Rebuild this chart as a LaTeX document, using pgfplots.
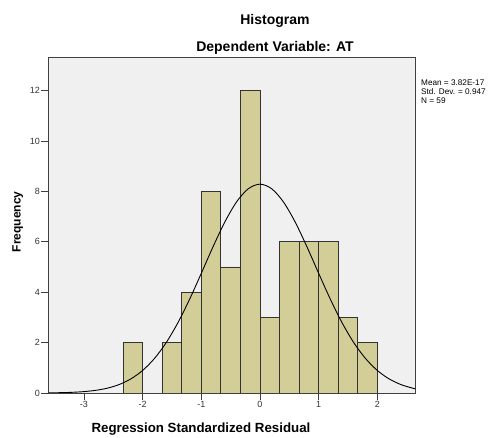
\documentclass[border=0pt]{standalone}
\usepackage{fontspec}
\setmainfont{Liberation Sans}
\usepackage{pgfplots}
\pgfplotsset{compat=1.18}
\definecolor{barfill}{RGB}{211,206,151}
\definecolor{bgfill}{RGB}{240,240,240}
\begin{document}
\begin{tikzpicture}
\useasboundingbox (0pt,0pt) rectangle (497pt,438pt);
\begin{axis}[
  at={(48pt,45pt)}, anchor=south west,
  scale only axis, width=367pt, height=336pt,
  xmin=-3.61, xmax=2.64, ymin=0, ymax=13.33,
  xtick={-3,-2,-1,0,1,2}, ytick={0,2,4,6,8,10,12},
  tick align=outside, major tick length=7pt,
  xtick pos=bottom, ytick pos=left,
  tick style={black!75, line width=0.6pt},
  axis line style={black!75, line width=0.8pt},
  axis background/.style={fill=bgfill},
  ticklabel style={font=\fontsize{9}{9}\selectfont, text=black!80},
  /pgf/number format/assume math mode=true,
  yticklabel style={inner sep=1pt},
  xticklabel style={inner sep=1pt},
]
\addplot[ybar interval, fill=barfill, draw=black!80, line width=0.8pt] coordinates {(-2.3333,2) (-2,2)};
\addplot[ybar interval, fill=barfill, draw=black!80, line width=0.8pt] coordinates {(-1.6667,2) (-1.3333,4) (-1,8) (-0.6667,5) (-0.3333,12) (0,3) (0.3333,6) (0.6667,6) (1,6) (1.3333,3) (1.6667,2) (2,2)};
\addplot[smooth, black, line width=0.9pt] coordinates {
(-3.6,0.006) (-3.4,0.013) (-3.2,0.027) (-3.0,0.055) (-2.8,0.105) (-2.6,0.191) (-2.4,0.334) (-2.2,0.558) (-2.0,0.891) (-1.8,1.361) (-1.6,1.988) (-1.4,2.778) (-1.2,3.712) (-1.0,4.744) (-0.8,5.799) (-0.6,6.778) (-0.4,7.578) (-0.2,8.102) (0,8.285) (0.2,8.102) (0.4,7.578) (0.6,6.778) (0.8,5.799) (1.0,4.744) (1.2,3.712) (1.4,2.778) (1.6,1.988) (1.8,1.361) (2.0,0.891) (2.2,0.558) (2.4,0.334) (2.6,0.191) (2.64,0.170)};
\end{axis}
\node[anchor=base, inner sep=0pt, font=\bfseries\fontsize{14}{16}\selectfont] at (275pt,413pt) {Histogram};
\node[anchor=base, inner sep=0pt, font=\bfseries\fontsize{14}{16}\selectfont] at (275pt,386.3pt) {Dependent Variable: AT};
\node[anchor=base, inner sep=0pt, font=\bfseries\fontsize{13.3}{15}\selectfont] at (201pt,5.5pt) {Regression Standardized Residual};
\node[anchor=base, rotate=90, inner sep=0pt, font=\bfseries\fontsize{12}{14}\selectfont] at (20.5pt,216.3pt) {Frequency};
\node[anchor=base west, inner sep=0pt, font=\fontsize{8.2}{8.2}\selectfont] at (421pt,352.5pt) {Mean = 3.82E-17};
\node[anchor=base west, inner sep=0pt, font=\fontsize{8.2}{8.2}\selectfont] at (421pt,343.3pt) {Std. Dev. = 0.947};
\node[anchor=base west, inner sep=0pt, font=\fontsize{8.2}{8.2}\selectfont] at (421pt,334.1pt) {N = 59};
\end{tikzpicture}
\end{document}
